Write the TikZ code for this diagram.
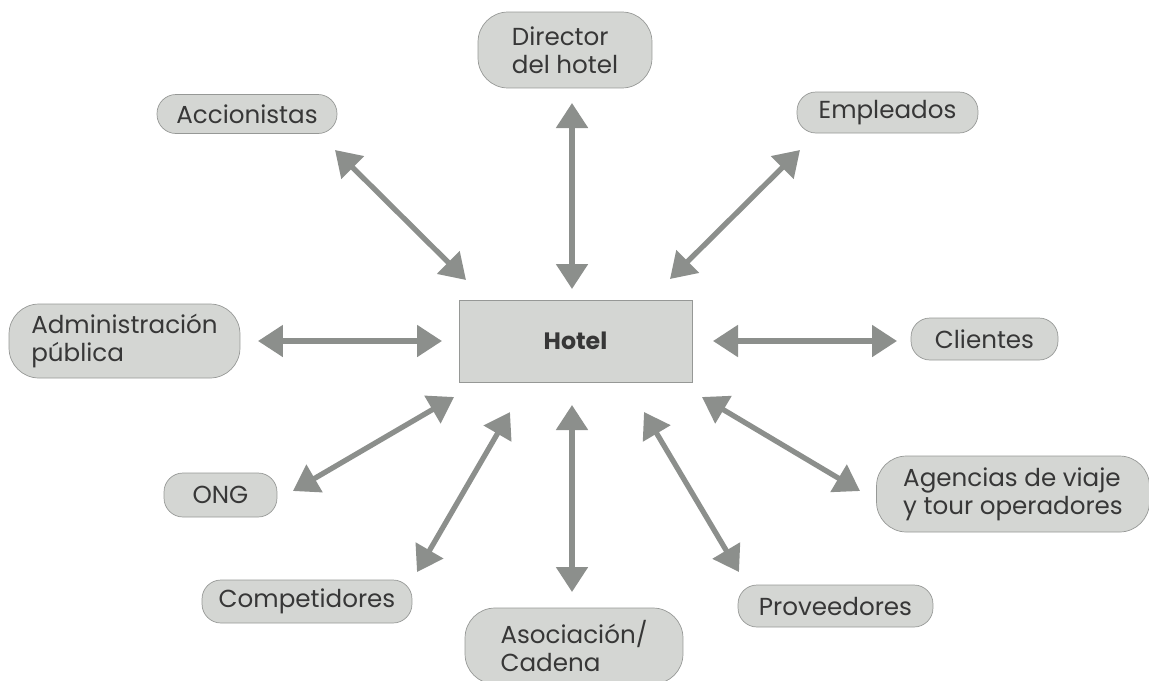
\documentclass[tikz,border=0pt]{standalone}
\usepackage{fontspec}
\setmainfont{Poppins}
\usetikzlibrary{arrows.meta}

\definecolor{boxgray}{RGB}{212,214,211}
\definecolor{edgegray}{RGB}{150,152,150}
\definecolor{arrowgray}{RGB}{140,143,140}
\definecolor{textgray}{RGB}{55,55,55}

\tikzset{
    party/.style={draw=edgegray, fill=boxgray, rounded corners=0.38cm, text=textgray,
        align=left, inner sep=0pt, font=\fontsize{14}{16}\selectfont},
    tallparty/.style={party, rounded corners=0.6cm},
    link/.style={arrowgray, line width=3pt,
        {Triangle[length=0.5cm, width=0.62cm]}-{Triangle[length=0.5cm, width=0.62cm]}}
}

\begin{document}
\begin{tikzpicture}[x=0.02cm, y=-0.02cm]
    \useasboundingbox (0, 0) rectangle (1149, 680);

    \node[draw=edgegray, fill=boxgray, minimum width=4.66cm, minimum height=1.64cm,
        text=textgray, font=\fontsize{13.5}{16}\selectfont\bfseries] (hotel) at (575.5, 341) {Hotel};

    \node[tallparty, minimum width=3.48cm, minimum height=1.52cm] (dir) at (565, 50) {Director\\del hotel};
    \node[party, minimum width=3.6cm, minimum height=0.78cm] (acc) at (247, 114) {Accionistas};
    \node[party, minimum width=3.62cm, minimum height=0.82cm] (emp) at (887.5, 112.5) {Empleados};
    \node[tallparty, minimum width=4.62cm, minimum height=1.48cm] (adm) at (124.5, 341) {Administración\\pública};
    \node[party, minimum width=2.94cm, minimum height=0.84cm] (cli) at (984.5, 339) {Clientes};
    \node[party, minimum width=2.26cm, minimum height=0.88cm] (ong) at (220.5, 495) {ONG};
    \node[tallparty, minimum width=5.46cm, minimum height=1.52cm] (age) at (1013, 494) {Agencias de viaje\\y tour operadores};
    \node[party, minimum width=4.2cm, minimum height=0.86cm] (com) at (307, 601.5) {Competidores};
    \node[tallparty, minimum width=4.36cm, minimum height=1.52cm] (aso) at (574, 646) {Asociación/\\Cadena\hspace*{1.4em}};
    \node[party, minimum width=3.9cm, minimum height=0.84cm] (pro) at (835.5, 606) {Proveedores};

    % arrow ends: out = next to the party, in = next to the hotel
    \coordinate (acc-out) at (335, 150);  \coordinate (acc-in) at (466, 280);
    \coordinate (dir-out) at (572, 103);  \coordinate (dir-in) at (572, 289);
    \coordinate (emp-out) at (800, 150);  \coordinate (emp-in) at (670, 279);
    \coordinate (adm-out) at (258, 341);  \coordinate (adm-in) at (442, 341);
    \coordinate (cli-out) at (897, 341);  \coordinate (cli-in) at (713, 341);
    \coordinate (ong-out) at (293, 491);  \coordinate (ong-in) at (454, 397);
    \coordinate (age-out) at (860, 491);  \coordinate (age-in) at (702, 397);
    \coordinate (com-out) at (417, 572);  \coordinate (com-in) at (510, 412);
    \coordinate (aso-out) at (572, 592);  \coordinate (aso-in) at (572, 405);
    \coordinate (pro-out) at (739, 572);  \coordinate (pro-in) at (644, 412);

    \foreach \n in {acc, dir, emp, adm, cli, ong, age, com, aso, pro}
        \draw[link] (\n-out) -- (\n-in);

\end{tikzpicture}
\end{document}
